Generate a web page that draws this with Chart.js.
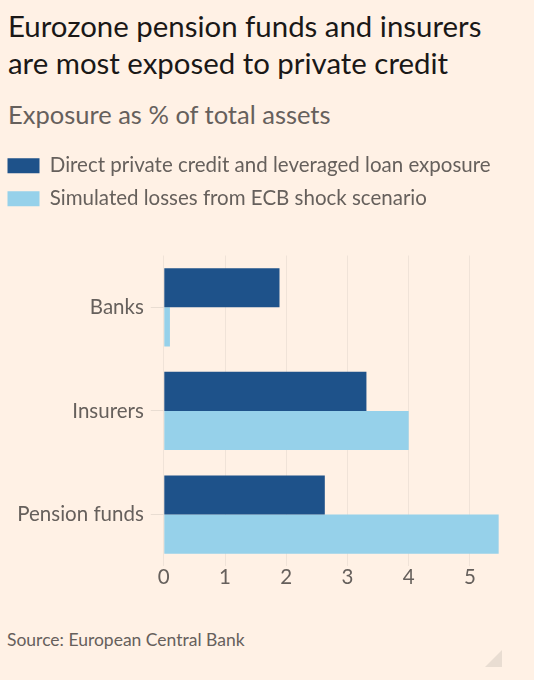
<!DOCTYPE html>
<html>
<head>
<meta charset="utf-8">
<script src="https://cdn.jsdelivr.net/npm/chart.js@4.4.1/dist/chart.umd.min.js"></script>
<style>
  html, body { margin:0; padding:0; }
  body { width:534px; height:680px; background:#FFF1E5; position:relative; overflow:hidden; font-family: Lato, sans-serif; }
  #title { position:absolute; left:8px; top:7px; font-size:29.4px; line-height:37px; color:#1a1817; white-space:nowrap; }
  #sub { position:absolute; left:8px; top:99px; font-size:25.5px; line-height:30px; color:#66605C; white-space:nowrap; }
  #wrap { position:absolute; left:-5.5px; top:143px; width:539.5px; height:446px; }
  #source { position:absolute; left:7px; top:630px; font-size:17.5px; line-height:20px; color:#66605C; white-space:nowrap; }
  #corner { position:absolute; left:485px; top:650px; width:0; height:0; border-left:17px solid transparent; border-bottom:17px solid #E9DDD2; }
</style>
</head>
<body>
<div id="title">Eurozone pension funds and insurers<br>are most exposed to private credit</div>
<div id="sub">Exposure as % of total assets</div>
<div id="wrap"><canvas id="c"></canvas></div>
<div id="source">Source: European Central Bank</div>
<div id="corner"></div>
<script>
const categories = ["Banks", "Insurers", "Pension funds"];
const seriesNames = ["Direct private credit and leveraged loan exposure", "Simulated losses from ECB shock scenario"];
const directExposure = [1.89, 3.31, 2.63];
const simulatedLosses = [0.1, 4.0, 5.47];
const xTicks = [0, 1, 2, 3, 4, 5];
const xMax = 5.5;

new Chart(document.getElementById('c'), {
  type: 'bar',
  data: {
    labels: categories,
    datasets: [
      { label: seriesNames[0], data: directExposure, backgroundColor: '#1E528A', borderWidth: 0, categoryPercentage: 0.755, barPercentage: 1 },
      { label: seriesNames[1], data: simulatedLosses, backgroundColor: '#96D1EA', borderWidth: 0, categoryPercentage: 0.755, barPercentage: 1 }
    ]
  },
  options: {
    indexAxis: 'y',
    responsive: true,
    maintainAspectRatio: false,
    animation: false,
    layout: { padding: { left: 0, right: 34, top: 0, bottom: 0 } },
    plugins: {
      tooltip: { enabled: false },
      legend: {
        position: 'top',
        align: 'start',
        labels: {
          boxWidth: 32,
          boxHeight: 15,
          padding: 12.5,
          color: '#66605C',
          font: { family: 'Lato', size: 20.5 }
        }
      },
      subtitle: {
        display: true,
        text: '',
        position: 'top',
        weight: 500,
        padding: 0,
        font: { size: 10, lineHeight: '36.5px' }
      }
    },
    scales: {
      x: {
        type: 'linear',
        min: 0,
        max: xMax,
        grid: { color: '#F0E3D8', drawTicks: false, lineWidth: 1 },
        border: { display: false },
        afterBuildTicks: (s) => { s.ticks = xTicks.map(v => ({ value: v })); },
        ticks: { padding: -1, color: '#66605C', font: { family: 'Lato', size: 20.5 } }
      },
      y: {
        grid: { drawOnChartArea: false, drawTicks: true, tickLength: 13, color: '#E9DDD2', offset: false },
        border: { display: false },
        afterFit: (s) => { s.width = 168.8; },
        ticks: { padding: 7, color: '#66605C', font: { family: 'Lato', size: 20.5 } }
      }
    }
  }
});
</script>
</body>
</html>
